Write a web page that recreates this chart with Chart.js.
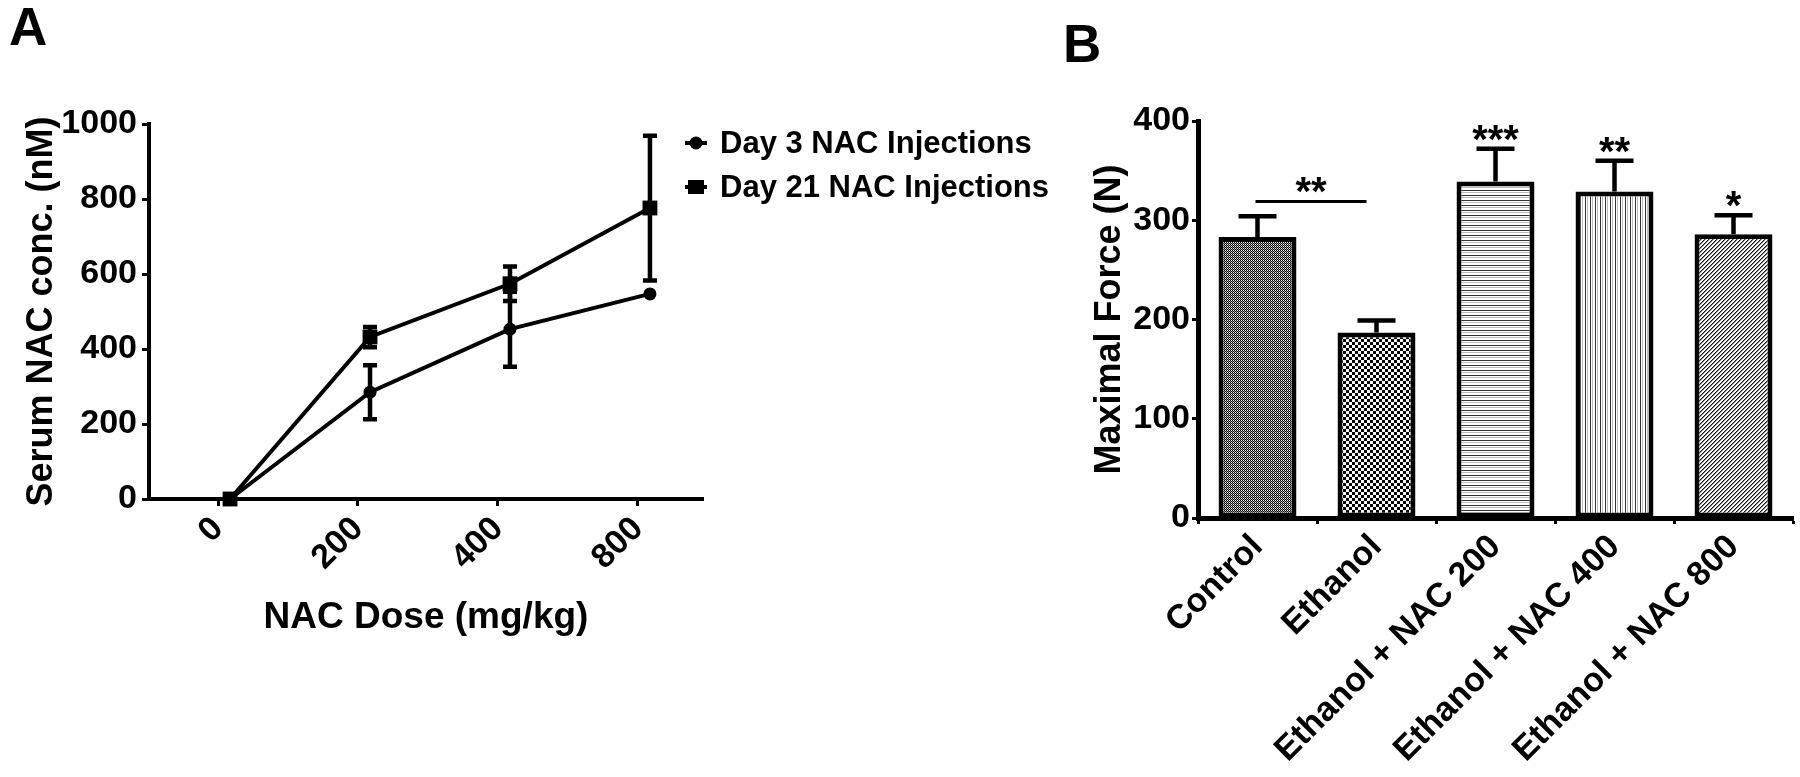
<!DOCTYPE html>
<html>
<head>
<meta charset="utf-8">
<script src="https://cdn.jsdelivr.net/npm/chart.js@4.4.1/dist/chart.umd.min.js"></script>
<style>
  html, body { margin: 0; padding: 0; background: #fff; }
  body { width: 1800px; height: 777px; position: relative; overflow: hidden; }
  canvas { position: absolute; top: 0; }
  #chartA { left: 0; }
  #chartB { left: 1040px; }
  .tag { position: absolute; font: bold 53px/1 "Liberation Sans", Arial, sans-serif; color: #000; }
</style>
</head>
<body>
<div class="tag" style="left:9px; top:0">A</div>
<div class="tag" style="left:1063px; top:17px">B</div>
<canvas id="chartA" width="1060" height="777"></canvas>
<canvas id="chartB" width="760" height="777"></canvas>
<script>
// Panel A: serum NAC after injections
const doseLabels = ['0', '200', '400', '800'];
const seriesNames = ['Day 3 NAC Injections', 'Day 21 NAC Injections'];
const day3Mean = [0, 285, 453, 547];
const day3Err = [0, 72, 100, 0];
const day21Mean = [0, 432, 574, 776];
const day21Err = [0, 27, 46, 193];

// Panel B: maximal force
const groupLabels = ['Control', 'Ethanol', 'Ethanol + NAC 200', 'Ethanol + NAC 400', 'Ethanol + NAC 800'];
const forceMean = [283, 187, 339, 329, 286];
const forceErr = [21, 12, 33, 31, 19];
const starLabels = ['', '', '***', '**', '*'];
const bracket = { from: 0, to: 1, value: 319, text: '**' };

const FONT = '"Liberation Sans", Arial, sans-serif';
Chart.defaults.font.family = FONT;
Chart.defaults.font.weight = 'bold';
Chart.defaults.color = '#000';

// GraphPad puts the dose ticks a bit left of the points
const tickShift = -0.086;

function makePattern(w, h, draw) {
  const c = document.createElement('canvas');
  c.width = w; c.height = h;
  const g = c.getContext('2d');
  g.fillStyle = '#fff';
  g.fillRect(0, 0, w, h);
  draw(g);
  return g.createPattern(c, 'repeat');
}

const fills = [
  makePattern(2, 2, g => { g.fillStyle = '#000'; g.fillRect(0, 0, 1, 1); g.fillRect(1, 1, 1, 1); g.fillStyle = '#999'; g.fillRect(0, 1, 1, 1); }),
  makePattern(6, 6, g => { g.fillStyle = '#000'; g.fillRect(0, 0, 3, 3); g.fillRect(3, 3, 3, 3); }),
  makePattern(5, 5, g => { g.fillStyle = '#333'; g.fillRect(0, 0, 5, 1); g.fillStyle = '#bbb'; g.fillRect(0, 2, 5, 1); }),
  makePattern(5, 5, g => { g.fillStyle = '#333'; g.fillRect(0, 0, 1, 5); g.fillStyle = '#bbb'; g.fillRect(2, 0, 1, 5); }),
  makePattern(4, 4, g => {
    g.fillStyle = '#111';
    for (let i = 0; i < 4; i++) g.fillRect(3 - i, i, 1, 1);
    g.fillStyle = '#888';
    for (let i = 0; i < 4; i++) g.fillRect((4 - i) % 4, i, 1, 1);
  })
];

const errorBarsA = {
  id: 'errorBarsA',
  afterDatasetsDraw(chart) {
    const { ctx, scales: { y } } = chart;
    ctx.save();
    ctx.strokeStyle = '#000';
    ctx.lineWidth = 4.5;
    chart.data.datasets.forEach((ds, d) => {
      chart.getDatasetMeta(d).data.forEach((pt, i) => {
        const e = ds.errors[i];
        if (!e) return;
        const hi = y.getPixelForValue(ds.data[i].y + e);
        const lo = y.getPixelForValue(ds.data[i].y - e);
        ctx.beginPath();
        ctx.moveTo(pt.x, hi); ctx.lineTo(pt.x, lo);
        ctx.moveTo(pt.x - 7, hi); ctx.lineTo(pt.x + 7, hi);
        ctx.moveTo(pt.x - 7, lo); ctx.lineTo(pt.x + 7, lo);
        ctx.stroke();
      });
    });
    ctx.restore();
  }
};

const legendA = {
  id: 'legendA',
  afterDraw(chart) {
    const { ctx } = chart;
    ctx.save();
    ctx.fillStyle = '#000';
    ctx.strokeStyle = '#000';
    ctx.font = 'bold 31px ' + FONT;
    ctx.textBaseline = 'middle';
    chart.data.datasets.forEach((ds, i) => {
      const y = 143 + i * 44, mx = 696;
      ctx.lineWidth = 4;
      ctx.beginPath(); ctx.moveTo(mx - 11, y); ctx.lineTo(mx + 11, y); ctx.stroke();
      if (ds.pointStyle === 'circle') {
        ctx.beginPath(); ctx.arc(mx, y, 6.5, 0, Math.PI * 2); ctx.fill();
      } else {
        ctx.fillRect(mx - 8, y - 7, 16, 14);
      }
      ctx.fillText(ds.label, 720, y + 1);
    });
    ctx.restore();
  }
};

new Chart(document.getElementById('chartA'), {
  type: 'line',
  data: {
    datasets: [
      {
        label: seriesNames[0],
        data: day3Mean.map((v, i) => ({ x: i, y: v })),
        errors: day3Err,
        borderColor: '#000', backgroundColor: '#000', borderWidth: 4,
        pointStyle: 'circle', pointRadius: 6.5, pointBorderWidth: 0,
        clip: false
      },
      {
        label: seriesNames[1],
        data: day21Mean.map((v, i) => ({ x: i, y: v })),
        errors: day21Err,
        borderColor: '#000', backgroundColor: '#000', borderWidth: 4,
        pointStyle: 'rect', pointRadius: 10.5, pointBorderWidth: 0,
        clip: false
      }
    ]
  },
  options: {
    responsive: false,
    animation: false,
    events: [],
    layout: { padding: { left: 0, top: 124, right: 357, bottom: 136 } },
    plugins: { legend: { display: false }, tooltip: { enabled: false } },
    scales: {
      x: {
        type: 'linear', min: -0.579, max: 3.379,
        afterBuildTicks: s => { s.ticks = doseLabels.map((_, i) => ({ value: i + tickShift })); },
        afterFit: s => { s.height = 142; },
        ticks: { callback: (v, i) => doseLabels[i], minRotation: 45, maxRotation: 45, autoSkip: false, padding: 3, font: { size: 34, weight: 'bold' } },
        grid: { drawOnChartArea: false, tickLength: 7, tickWidth: 3, tickColor: '#000' },
        border: { width: 4, color: '#000' },
        title: { display: true, text: 'NAC Dose (mg/kg)', font: { size: 37, weight: 'bold' }, padding: { top: 0, bottom: 1 } }
      },
      y: {
        min: 0, max: 1000,
        afterFit: s => { s.width = 149; },
        ticks: { stepSize: 200, padding: 5, callback: v => String(v), font: { size: 34, weight: 'bold' } },
        grid: { drawOnChartArea: false, tickLength: 7, tickWidth: 3, tickColor: '#000' },
        border: { width: 4, color: '#000' },
        title: { display: true, text: 'Serum NAC conc. (nM)', font: { size: 36, weight: 'bold' }, padding: { top: 20, bottom: 0 } }
      }
    }
  },
  plugins: [errorBarsA, legendA]
});

const barExtras = {
  id: 'barExtras',
  afterDatasetsDraw(chart) {
    const { ctx, scales: { y } } = chart;
    const bars = chart.getDatasetMeta(0).data;
    ctx.save();
    ctx.strokeStyle = '#000';
    ctx.fillStyle = '#000';
    ctx.font = 'bold 40px ' + FONT;
    ctx.textAlign = 'center';
    ctx.textBaseline = 'alphabetic';
    bars.forEach((bar, i) => {
      const top = y.getPixelForValue(forceMean[i] + forceErr[i]);
      ctx.lineWidth = 4.5;
      ctx.beginPath();
      ctx.moveTo(bar.x, bar.y); ctx.lineTo(bar.x, top);
      ctx.moveTo(bar.x - 19, top); ctx.lineTo(bar.x + 19, top);
      ctx.stroke();
      if (starLabels[i]) ctx.fillText(starLabels[i], bar.x, top + 4);
    });
    const a = bars[bracket.from], b = bars[bracket.to];
    const by = y.getPixelForValue(bracket.value);
    ctx.lineWidth = 3;
    ctx.beginPath(); ctx.moveTo(a.x - 2, by); ctx.lineTo(b.x - 10, by); ctx.stroke();
    ctx.fillText(bracket.text, (a.x + b.x - 12) / 2, by + 4);
    ctx.restore();
  }
};

new Chart(document.getElementById('chartB'), {
  type: 'bar',
  data: {
    labels: groupLabels,
    datasets: [{
      data: forceMean,
      backgroundColor: fills,
      borderColor: '#000',
      borderWidth: 5,
      borderSkipped: false,
      barPercentage: 0.655,
      categoryPercentage: 1
    }]
  },
  options: {
    responsive: false,
    animation: false,
    events: [],
    layout: { padding: { left: 0, top: 121, right: 7, bottom: 0 } },
    plugins: { legend: { display: false }, tooltip: { enabled: false } },
    scales: {
      x: {
        afterFit: s => { s.height = 259; },
        ticks: { minRotation: 45, maxRotation: 45, autoSkip: false, padding: 3, font: { size: 34, weight: 'bold' } },
        grid: { drawOnChartArea: false, tickLength: 6, tickWidth: 3, tickColor: '#000' },
        border: { width: 5, color: '#000' }
      },
      y: {
        min: 0, max: 400,
        afterFit: s => { s.width = 158; },
        ticks: { stepSize: 100, padding: 2, font: { size: 34, weight: 'bold' } },
        grid: { drawOnChartArea: false, tickLength: 6, tickWidth: 3, tickColor: '#000' },
        border: { width: 5, color: '#000' },
        title: { display: true, text: 'Maximal Force (N)', font: { size: 36, weight: 'bold' }, padding: { top: 48, bottom: 0 } }
      }
    }
  },
  plugins: [barExtras]
});
</script>
</body>
</html>
